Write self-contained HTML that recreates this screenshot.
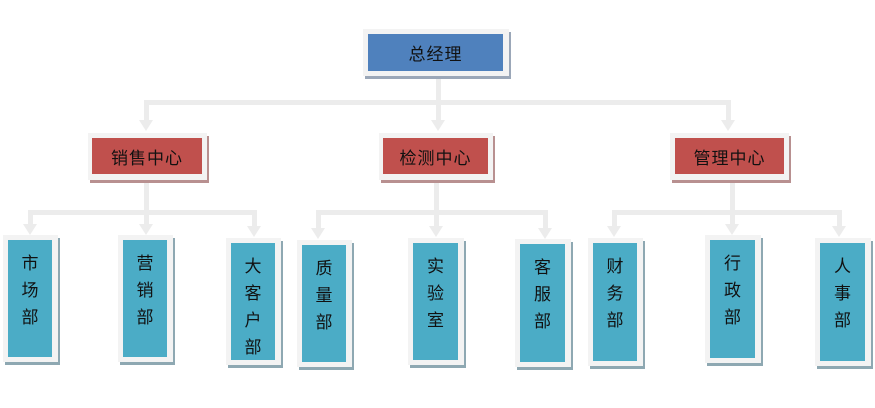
<!DOCTYPE html>
<html><head><meta charset="utf-8"><style>
body{margin:0;width:875px;height:408px;background:#fff;position:relative;overflow:hidden;font-family:"Liberation Sans","Noto Sans CJK SC",sans-serif;}
.f{position:absolute;background:#f3f3f3;}
.b{position:absolute;color:#111;font-size:17px;display:flex;align-items:center;justify-content:center;letter-spacing:1px;}
.v{position:absolute;color:#111;font-size:17px;text-align:center;line-height:27px;padding-top:10px;box-sizing:border-box;}
.l{position:absolute;background:#ececec;}
.a{position:absolute;width:0;height:0;border-left:7px solid transparent;border-right:7px solid transparent;border-top:11px solid #ececec;}
</style></head><body>
<!-- lines level1 -->
<div class="l" style="left:436px;top:77px;width:5px;height:45px"></div>
<div class="l" style="left:144px;top:100px;width:587px;height:5px"></div>
<div class="l" style="left:144px;top:100px;width:5px;height:22px"></div>
<div class="l" style="left:726px;top:100px;width:5px;height:22px"></div>
<div class="a" style="left:139px;top:120px"></div>
<div class="a" style="left:431px;top:120px"></div>
<div class="a" style="left:721px;top:120px"></div>
<!-- level2 lines -->
<div class="l" style="left:144px;top:182px;width:5px;height:44px"></div>
<div class="l" style="left:28px;top:210px;width:229px;height:5px"></div>
<div class="l" style="left:28px;top:210px;width:5px;height:16px"></div>
<div class="l" style="left:252px;top:210px;width:5px;height:18px"></div>
<div class="a" style="left:23px;top:224px"></div>
<div class="a" style="left:139px;top:224px"></div>
<div class="a" style="left:247px;top:226px"></div>

<div class="l" style="left:434px;top:182px;width:5px;height:44px"></div>
<div class="l" style="left:316px;top:210px;width:232px;height:5px"></div>
<div class="l" style="left:316px;top:210px;width:5px;height:18px"></div>
<div class="l" style="left:543px;top:210px;width:5px;height:18px"></div>
<div class="a" style="left:311px;top:228px"></div>
<div class="a" style="left:429px;top:226px"></div>
<div class="a" style="left:538px;top:228px"></div>

<div class="l" style="left:730px;top:182px;width:5px;height:42px"></div>
<div class="l" style="left:612px;top:210px;width:230px;height:5px"></div>
<div class="l" style="left:612px;top:210px;width:5px;height:16px"></div>
<div class="l" style="left:837px;top:210px;width:5px;height:16px"></div>
<div class="a" style="left:607px;top:226px"></div>
<div class="a" style="left:725px;top:224px"></div>
<div class="a" style="left:832px;top:226px"></div>

<!-- top -->
<div class="f" style="left:363px;top:29px;width:146px;height:47px;box-shadow:2px 3px 0 #9ba7b8"></div>
<div class="b" style="left:368px;top:34px;width:135px;height:37px;background:#4f81bd">总经理</div>
<!-- red -->
<div class="f" style="left:88px;top:133px;width:119px;height:47px;box-shadow:2px 3px 0 #b89090"></div>
<div class="b" style="left:92px;top:138px;width:110px;height:36px;background:#c0504d">销售中心</div>
<div class="f" style="left:379px;top:133px;width:114px;height:47px;box-shadow:2px 3px 0 #b89090"></div>
<div class="b" style="left:383px;top:138px;width:105px;height:36px;background:#c0504d">检测中心</div>
<div class="f" style="left:670px;top:133px;width:119px;height:47px;box-shadow:2px 3px 0 #b89090"></div>
<div class="b" style="left:675px;top:138px;width:109px;height:36px;background:#c0504d">管理中心</div>

<!-- teal boxes -->
<div class="f" style="left:3px;top:235px;width:55px;height:127px;box-shadow:2px 3px 0 #8ea8b2"></div>
<div class="v" style="left:8px;top:240px;width:44px;height:117px;background:#4bacc6">市<br>场<br>部</div>
<div class="f" style="left:118px;top:235px;width:55px;height:127px;box-shadow:2px 3px 0 #8ea8b2"></div>
<div class="v" style="left:123px;top:240px;width:44px;height:117px;background:#4bacc6">营<br>销<br>部</div>
<div class="f" style="left:226px;top:238px;width:55px;height:127px;box-shadow:2px 3px 0 #8ea8b2"></div>
<div class="v" style="left:231px;top:243px;width:44px;height:117px;background:#4bacc6">大<br>客<br>户<br>部</div>
<div class="f" style="left:297px;top:240px;width:55px;height:127px;box-shadow:2px 3px 0 #8ea8b2"></div>
<div class="v" style="left:302px;top:245px;width:44px;height:117px;background:#4bacc6">质<br>量<br>部</div>
<div class="f" style="left:408px;top:238px;width:56px;height:127px;box-shadow:2px 3px 0 #8ea8b2"></div>
<div class="v" style="left:413px;top:243px;width:45px;height:117px;background:#4bacc6">实<br>验<br>室</div>
<div class="f" style="left:515px;top:239px;width:56px;height:128px;box-shadow:2px 3px 0 #8ea8b2"></div>
<div class="v" style="left:520px;top:244px;width:45px;height:118px;background:#4bacc6">客<br>服<br>部</div>
<div class="f" style="left:588px;top:238px;width:55px;height:128px;box-shadow:2px 3px 0 #8ea8b2"></div>
<div class="v" style="left:593px;top:243px;width:44px;height:118px;background:#4bacc6">财<br>务<br>部</div>
<div class="f" style="left:705px;top:235px;width:56px;height:128px;box-shadow:2px 3px 0 #8ea8b2"></div>
<div class="v" style="left:710px;top:240px;width:45px;height:118px;background:#4bacc6">行<br>政<br>部</div>
<div class="f" style="left:815px;top:238px;width:56px;height:128px;box-shadow:2px 3px 0 #8ea8b2"></div>
<div class="v" style="left:820px;top:243px;width:45px;height:118px;background:#4bacc6">人<br>事<br>部</div>
</body></html>
